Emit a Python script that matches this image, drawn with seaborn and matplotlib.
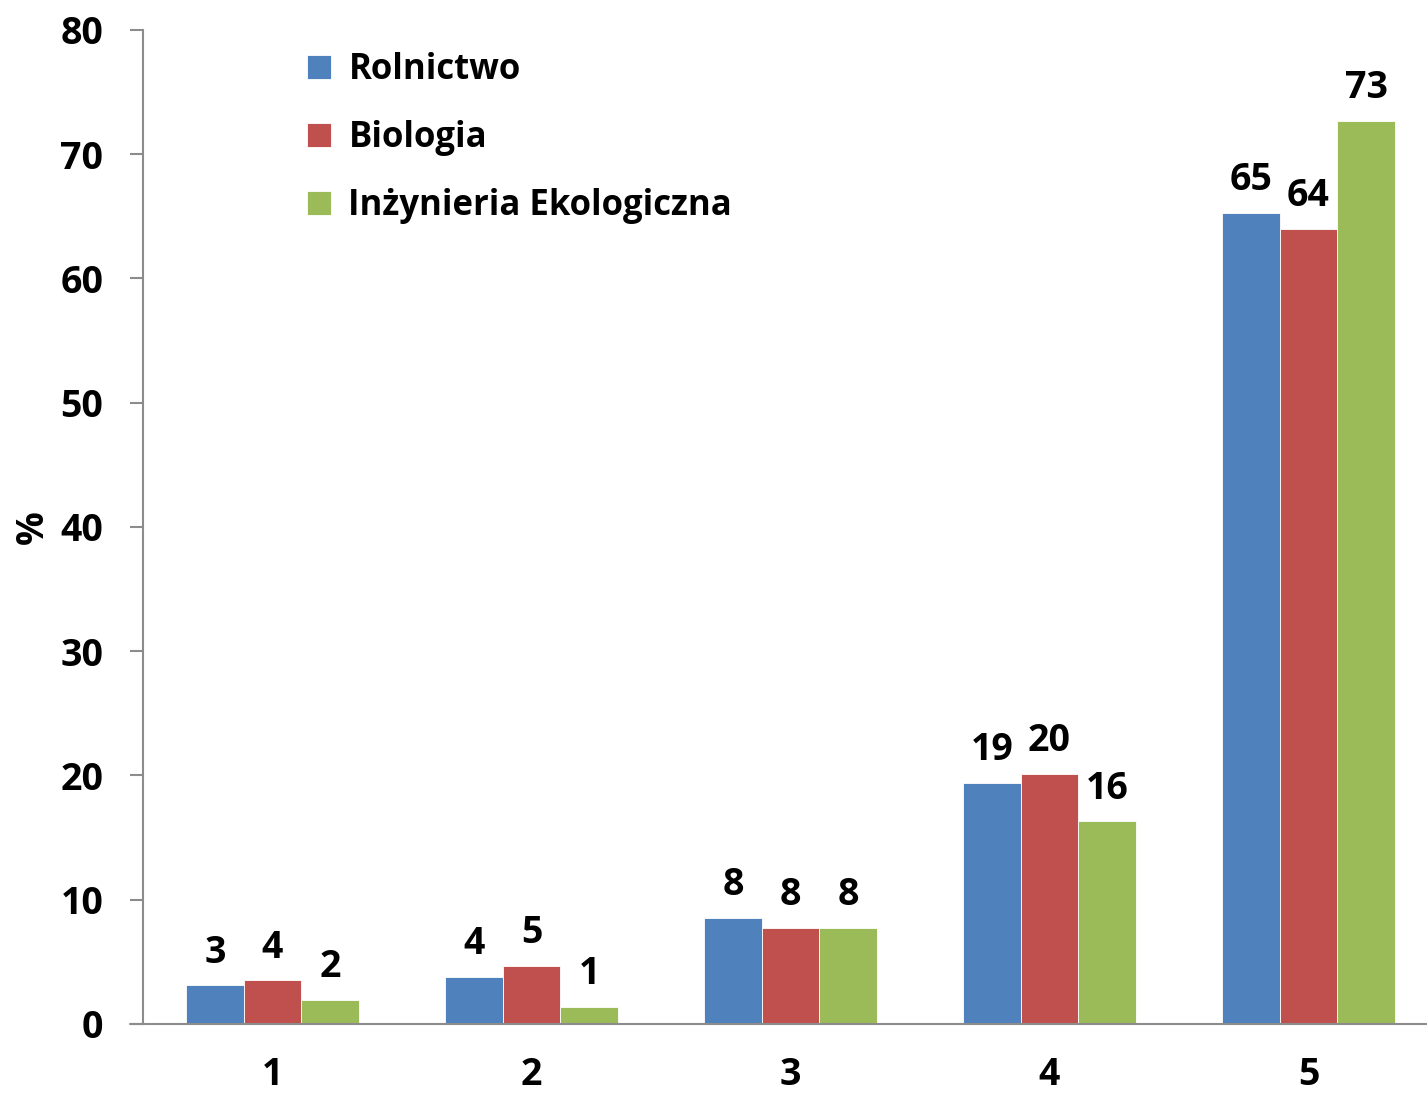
import matplotlib
matplotlib.use("Agg")
import matplotlib.pyplot as plt
import seaborn as sns
import pandas as pd
import numpy as np

categories = ["1", "2", "3", "4", "5"]
series = ["Rolnictwo", "Biologia", "Inżynieria Ekologiczna"]
rolnictwo = [3.1, 3.8, 8.5, 19.4, 65.3]
biologia = [3.5, 4.7, 7.7, 20.1, 64.0]
inzynieria = [1.9, 1.4, 7.7, 16.3, 72.7]
labels_rol = ["3", "4", "8", "19", "65"]
labels_bio = ["4", "5", "8", "20", "64"]
labels_inz = ["2", "1", "8", "16", "73"]
yticks = [0, 10, 20, 30, 40, 50, 60, 70, 80]
colors = ["#4F81BD", "#C0504D", "#9BBB59"]

df = pd.DataFrame({
    "cat": categories * 3,
    "series": [series[0]] * 5 + [series[1]] * 5 + [series[2]] * 5,
    "val": rolnictwo + biologia + inzynieria,
})

sns.set_theme(style="white")
plt.rcParams["font.family"] = ["Open Sans", "DejaVu Sans"]
plt.rcParams["font.weight"] = "bold"
plt.rcParams["text.color"] = "black"
plt.rcParams["axes.labelcolor"] = "black"
plt.rcParams["xtick.labelcolor"] = "black"
plt.rcParams["ytick.labelcolor"] = "black"

FS = 27
LFS = 25

fig = plt.figure(figsize=(14.27, 10.94), dpi=100)
ax = fig.add_axes([0.1002, 0.064, 0.9075, 0.9086])

sns.barplot(data=df, x="cat", y="val", hue="series", palette=colors,
            width=0.667, saturation=1, ax=ax, edgecolor="white", linewidth=0.6)

for cont, labs in zip(ax.containers, [labels_rol, labels_bio, labels_inz]):
    ax.bar_label(cont, labels=labs, padding=10, fontsize=FS, fontweight="bold", color="black")

ax.set_xlim(-0.5, 4.5)
ax.set_ylim(0, 80)
ax.set_yticks(yticks)
ax.set_yticklabels([str(v) for v in yticks], fontsize=FS, fontweight="bold")
ax.set_xticks(range(5))
ax.set_xticklabels(categories, fontsize=FS, fontweight="bold")
ax.set_xticks(np.arange(-0.5, 5, 1), minor=True)
ax.tick_params(axis="x", which="major", length=0, pad=23)
ax.tick_params(axis="x", which="minor", length=9.5, width=1.5, color="#8c8c8c", direction="out")
ax.tick_params(axis="y", length=9.5, width=1.5, color="#8c8c8c", direction="out", pad=19, left=True)
ax.set_xlabel("")
ax.set_ylabel("%", fontsize=FS, fontweight="bold", labelpad=6)

for s in ["top", "right"]:
    ax.spines[s].set_visible(False)
for s in ["left", "bottom"]:
    ax.spines[s].set_color("#8c8c8c")
    ax.spines[s].set_linewidth(1.5)
ax.plot([-0.01, 0], [0, 0], transform=ax.transAxes, color="#8c8c8c", lw=1.5, clip_on=False)

leg = ax.legend(loc="upper left", bbox_to_anchor=(0.127, 0.978), frameon=False,
                fontsize=LFS, handlelength=0.68, handleheight=0.68, labelspacing=0.93,
                handletextpad=0.5, borderaxespad=0, borderpad=0)
for t in leg.get_texts():
    t.set_fontweight("bold")
    t.set_color("black")

fig.savefig("out.png", dpi=100)
